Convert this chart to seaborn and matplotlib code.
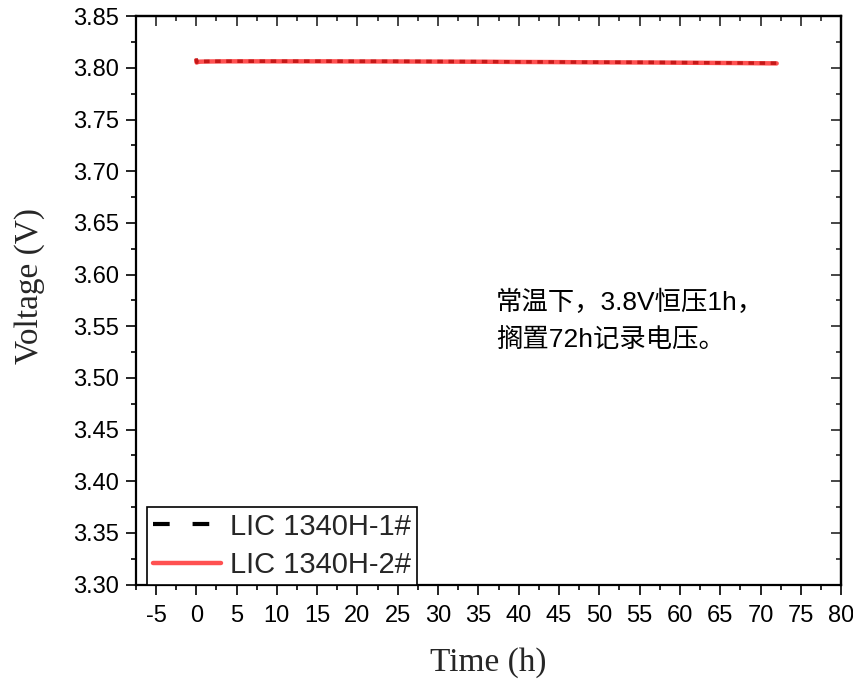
import seaborn as sns
import matplotlib.pyplot as plt
import pandas as pd
from matplotlib.lines import Line2D
from matplotlib.ticker import MultipleLocator, FormatStrFormatter

# values
time_h = [0, 0.05, 0.2, 0.5, 1, 2, 4, 8, 12, 16, 20, 24, 28, 32, 36,
          40, 44, 48, 52, 56, 60, 64, 68, 72]
volt_1 = [3.8090, 3.8055, 3.8060, 3.8062, 3.8063, 3.8064, 3.8065, 3.8065,
          3.8065, 3.8065, 3.8064, 3.8064, 3.8063, 3.8062, 3.8061, 3.8059,
          3.8058, 3.8056, 3.8055, 3.8054, 3.8052, 3.8050, 3.8048, 3.8046]
volt_2 = [3.8075, 3.8052, 3.8058, 3.8061, 3.8062, 3.8063, 3.8064, 3.8064,
          3.8064, 3.8064, 3.8063, 3.8063, 3.8062, 3.8061, 3.8060, 3.8058,
          3.8057, 3.8055, 3.8054, 3.8053, 3.8051, 3.8049, 3.8047, 3.8044]
series_names = ["LIC 1340H-1#", "LIC 1340H-2#"]
note_lines = ["常温下，3.8V恒压1h，", "搁置72h记录电压。"]

sns.set_theme(style="ticks")
plt.rcParams['font.family'] = ['Liberation Sans', 'DejaVu Sans']
plt.rcParams['axes.linewidth'] = 1.6
plt.rcParams['axes.unicode_minus'] = False

df1 = pd.DataFrame({'Time': time_h, 'Voltage': volt_1})
df2 = pd.DataFrame({'Time': time_h, 'Voltage': volt_2})

fig = plt.figure(figsize=(8.54, 6.79), dpi=100)
ax = fig.add_axes([0.159, 0.139, 0.826, 0.837])

sns.lineplot(data=df1, x='Time', y='Voltage', ax=ax, color='black',
             linewidth=2.5, dashes=False, legend=False)
ax.lines[-1].set_dashes((1.6, 1.6))
sns.lineplot(data=df2, x='Time', y='Voltage', ax=ax, color='#ff2020',
             alpha=0.78, linewidth=3.2, legend=False)

ax.set_xlim(-7.5, 80)
ax.set_ylim(3.30, 3.85)
ax.xaxis.set_major_locator(MultipleLocator(5))
ax.xaxis.set_minor_locator(MultipleLocator(2.5))
ax.yaxis.set_major_locator(MultipleLocator(0.05))
ax.yaxis.set_minor_locator(MultipleLocator(0.025))
ax.yaxis.set_major_formatter(FormatStrFormatter('%.2f'))

for sp in ax.spines.values():
    sp.set_visible(True)
    sp.set_color('black')

ax.tick_params(which='both', direction='out', colors='black', width=1.2,
               labelsize=17)
ax.tick_params(which='major', length=7)
ax.tick_params(which='minor', length=3.5)
ax.tick_params(axis='x', which='major', pad=8)
ax.tick_params(axis='y', which='major', pad=5)

ax_top = ax.secondary_xaxis('top')
ax_top.xaxis.set_major_locator(MultipleLocator(5))
ax_top.xaxis.set_minor_locator(MultipleLocator(2.5))
ax_top.tick_params(which='both', direction='in', labeltop=False, width=1.2)
ax_top.tick_params(which='major', length=7)
ax_top.tick_params(which='minor', length=3.5)
ax_right = ax.secondary_yaxis('right')
ax_right.yaxis.set_major_locator(MultipleLocator(0.05))
ax_right.yaxis.set_minor_locator(MultipleLocator(0.025))
ax_right.tick_params(which='both', direction='in', labelright=False, width=1.2)
ax_right.tick_params(which='major', length=7)
ax_right.tick_params(which='minor', length=3.5)

ax.set_xlabel('Time (h)', family='Liberation Serif', fontsize=24, labelpad=14)
ax.set_ylabel('Voltage (V)', family='Liberation Serif', fontsize=24)
ax.yaxis.set_label_coords(-0.128, 0.525)

for y_pos, line in zip([3.5735, 3.5368], note_lines):
    ax.text(37.2, y_pos, line, family=['Liberation Sans', 'Noto Sans CJK SC'],
            fontsize=19, va='center', ha='left', color='black')

handles = [
    Line2D([], [], color='black', linewidth=3, dashes=(4, 5.5)),
    Line2D([], [], color='#ff2020', alpha=0.78, linewidth=3.2),
]
leg = ax.legend(handles, series_names, loc='lower left',
                bbox_to_anchor=(0.0156, 0.0), borderaxespad=0,
                fontsize=21, handlelength=2.35, handletextpad=0.3,
                borderpad=0.2, labelspacing=0.35, fancybox=False,
                edgecolor='black', framealpha=1)
leg.get_frame().set_linewidth(1.2)

fig.savefig('out.png', dpi=100)
